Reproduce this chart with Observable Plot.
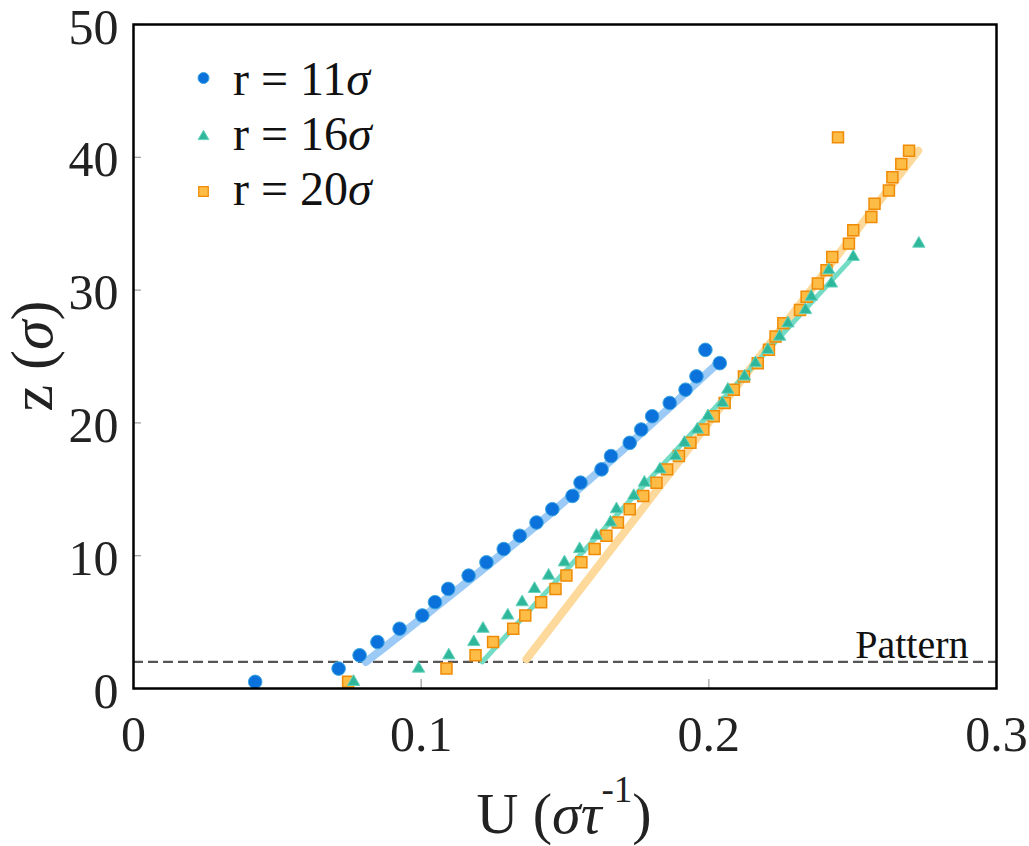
<!DOCTYPE html>
<html>
<head>
<meta charset="utf-8">
<script src="https://cdn.jsdelivr.net/npm/d3@7"></script>
<script src="https://cdn.jsdelivr.net/npm/@observablehq/plot@0.6"></script>
<style>
  html, body { margin: 0; padding: 0; background: #fff; }
  #chart { width: 1029px; height: 846px; }
</style>
</head>
<body>
<div id="chart"></div>
<script>
// ---- axis ticks ----
const xTicks = [0, 0.1, 0.2, 0.3];
const xTickLabels = ["0", "0.1", "0.2", "0.3"];
const yTicks = [0, 10, 20, 30, 40, 50];
const yTickLabels = ["0", "10", "20", "30", "40", "50"];
const xDomain = [0, 0.3];
const yDomain = [0, 50];

// ---- series labels ----
const seriesNames = ["r = 11", "r = 16", "r = 20"];

// ---- r = 11σ (circles) ----
const z11 = [0.5, 1.5, 2.5, 3.5, 4.5, 5.5, 6.5, 7.5, 8.5, 9.5, 10.5, 11.5, 12.5, 13.5, 14.5, 15.5, 16.5, 17.5, 18.5, 19.5, 20.5, 21.5, 22.5, 23.5, 24.5, 25.5];
const u11 = [0.0423, 0.0713, 0.0786, 0.0848, 0.0925, 0.1004, 0.1048, 0.1094, 0.1165, 0.1227, 0.1287, 0.1343, 0.1401, 0.1456, 0.1526, 0.1554, 0.1627, 0.1660, 0.1725, 0.1765, 0.1803, 0.1864, 0.1919, 0.1957, 0.2038, 0.1988];

// ---- r = 16σ (triangles) ----
const z16 = [0.5, 1.5, 2.5, 3.5, 4.5, 5.5, 6.5, 7.5, 8.5, 9.5, 10.5, 11.5, 12.5, 13.5, 14.5, 15.5, 16.5, 17.5, 18.5, 19.5, 20.5, 21.5, 22.5, 23.5, 24.5, 25.5, 26.5, 27.5, 28.5, 29.5, 30.5, 31.5, 32.5, 33.5];
const u16 = [0.0765, 0.0991, 0.1096, 0.1183, 0.1215, 0.1301, 0.1351, 0.1394, 0.1443, 0.1498, 0.1551, 0.1609, 0.1658, 0.1679, 0.1739, 0.1776, 0.1830, 0.1884, 0.1915, 0.1960, 0.1997, 0.2047, 0.2066, 0.2124, 0.2162, 0.2205, 0.2246, 0.2275, 0.2336, 0.2356, 0.2426, 0.2417, 0.2502, 0.2730];

// ---- r = 20σ (squares) ----
const z20 = [0.5, 1.5, 2.5, 3.5, 4.5, 5.5, 6.5, 7.5, 8.5, 9.5, 10.5, 11.5, 12.5, 13.5, 14.5, 15.5, 16.5, 17.5, 18.5, 19.5, 20.5, 21.5, 22.5, 23.5, 24.5, 25.5, 26.5, 27.5, 28.5, 29.5, 30.5, 31.5, 32.5, 33.5, 34.5, 35.5, 36.5, 37.5, 38.5, 39.5, 40.5, 41.5];
const u20 = [0.0746, 0.1088, 0.1189, 0.1250, 0.1320, 0.1362, 0.1417, 0.1467, 0.1505, 0.1557, 0.1603, 0.1644, 0.1684, 0.1725, 0.1772, 0.1818, 0.1855, 0.1896, 0.1936, 0.1981, 0.2017, 0.2055, 0.2087, 0.2122, 0.2170, 0.2209, 0.2232, 0.2259, 0.2317, 0.2340, 0.2379, 0.2409, 0.2429, 0.2487, 0.2502, 0.2565, 0.2576, 0.2626, 0.2638, 0.2669, 0.2696, 0.2449];

// ---- fit lines ----
const fit11U = [0.0808, 0.1440, 0.2029];
const fit11Z = [2.0, 13.0, 24.45];
const fit16U = [0.1212, 0.2502];
const fit16Z = [2.0, 32.5];
const fit20U = [0.1366, 0.2728];
const fit20Z = [2.2, 40.5];

// ---- pattern line ----
const patternZ = 2;
const patternLabel = "Pattern";

const toRows = (us, zs) => us.map((u, i) => ({u, z: zs[i]}));
const d11 = toRows(u11, z11), d16 = toRows(u16, z16), d20 = toRows(u20, z20);
const f11 = toRows(fit11U, fit11Z), f16 = toRows(fit16U, fit16Z), f20 = toRows(fit20U, fit20Z);

const C = {
  blue: "#0a72da", blueStroke: "#3aa6e2", blueLine: "#9ccaf6",
  green: "#2fb79b", greenStroke: "#66d3bd", greenLine: "#74dcc5",
  orange: "#fcbc45", orangeStroke: "#ef8b06", orangeLine: "#fdd99c"
};

const FONT = "Liberation Serif, Times New Roman, serif";

const chart = Plot.plot({
  width: 1029,
  height: 846,
  marginLeft: 133,
  marginRight: 33,
  marginTop: 24,
  marginBottom: 158,
  style: {fontFamily: FONT, background: "#fff", color: "#222", overflow: "visible"},
  x: {domain: xDomain},
  y: {domain: yDomain},
  marks: [
    Plot.axisX(xTicks, {anchor: "bottom", tickSize: -9, tickPadding: 36, stroke: "#9a9a9a", strokeWidth: 1.2, fill: "#222",
      fontSize: 50, tickFormat: d => xTickLabels[xTicks.indexOf(d)], label: null}),
    Plot.axisY(yTicks, {anchor: "left", tickSize: -8, tickPadding: 23, stroke: "#9a9a9a", strokeWidth: 1.2, fill: "#222",
      fontSize: 50, tickFormat: d => yTickLabels[yTicks.indexOf(d)], label: null}),
    Plot.ruleY([patternZ], {stroke: "#555", strokeWidth: 2.2, strokeDasharray: "10,5"}),
    Plot.text([patternLabel], {x: () => xDomain[1], y: () => patternZ, text: d => d, textAnchor: "end", lineAnchor: "bottom",
      dx: -28, dy: -4, fontSize: 40, fill: "#111"}),
    Plot.line(f20, {x: "u", y: "z", stroke: C.orangeLine, strokeWidth: 8}),
    Plot.line(f16, {x: "u", y: "z", stroke: C.greenLine, strokeWidth: 5}),
    Plot.line(f11, {x: "u", y: "z", stroke: C.blueLine, strokeWidth: 8, curve: "natural"}),
    Plot.dot(d20, {x: "u", y: "z", symbol: "square", r: 6.2, fill: C.orange, stroke: C.orangeStroke, strokeWidth: 1.5}),
    Plot.dot(d16, {x: "u", y: "z", symbol: "triangle", r: 4.6, fill: C.green, stroke: C.greenStroke, strokeWidth: 1}),
    Plot.dot(d11, {x: "u", y: "z", symbol: "circle", r: 6.8, fill: C.blue, stroke: C.blueStroke, strokeWidth: 1}),
    // legend symbols
    Plot.dot([seriesNames[0]], {frameAnchor: "top-left", dx: 70, dy: 53.5, symbol: "circle", r: 5.5, fill: C.blue, stroke: C.blueStroke, strokeWidth: 1}),
    Plot.dot([seriesNames[1]], {frameAnchor: "top-left", dx: 70, dy: 112, symbol: "triangle", r: 4, fill: C.green, stroke: C.greenStroke, strokeWidth: 1}),
    Plot.dot([seriesNames[2]], {frameAnchor: "top-left", dx: 70, dy: 167, symbol: "square", r: 5.4, fill: C.orange, stroke: C.orangeStroke, strokeWidth: 1.2}),
    Plot.frame({stroke: "#000", strokeWidth: 2.5})
  ]
});

document.getElementById("chart").appendChild(chart);

// nudge y tick labels down slightly (as in the reference)
const svg = d3.select(chart);
svg.selectAll('g[aria-label="y-axis tick label"]').each(function() {
  const g = d3.select(this);
  const t = g.attr("transform") || "";
  g.attr("transform", (t + " translate(0,3)").trim());
});

// ---- titles & legend text (mixed italic / superscript) ----
const ns = svg.append("g").attr("font-family", FONT).attr("fill", "#222");

// x title
const xt = ns.append("text").attr("x", 564).attr("y", 833).attr("text-anchor", "middle").attr("font-size", 58);
xt.append("tspan").text("U (");
xt.append("tspan").attr("font-style", "italic").text("στ");
xt.append("tspan").attr("font-size", 37).attr("dy", -31).text("-1");
xt.append("tspan").attr("dy", 31).text(")");

// y title
const yt = ns.append("text").attr("transform", "translate(52,356) rotate(-90)").attr("text-anchor", "middle").attr("font-size", 60);
yt.append("tspan").text("z (");
yt.append("tspan").attr("font-style", "italic").text("σ");
yt.append("tspan").text(")");

// legend labels
const legendY = [95, 150, 205];
seriesNames.forEach((name, i) => {
  const t = ns.append("text").attr("x", 233).attr("y", legendY[i]).attr("text-anchor", "start").attr("font-size", 48).attr("fill", "#111");
  t.append("tspan").text(name);
  t.append("tspan").attr("font-style", "italic").text("σ");
});
</script>
</body>
</html>
